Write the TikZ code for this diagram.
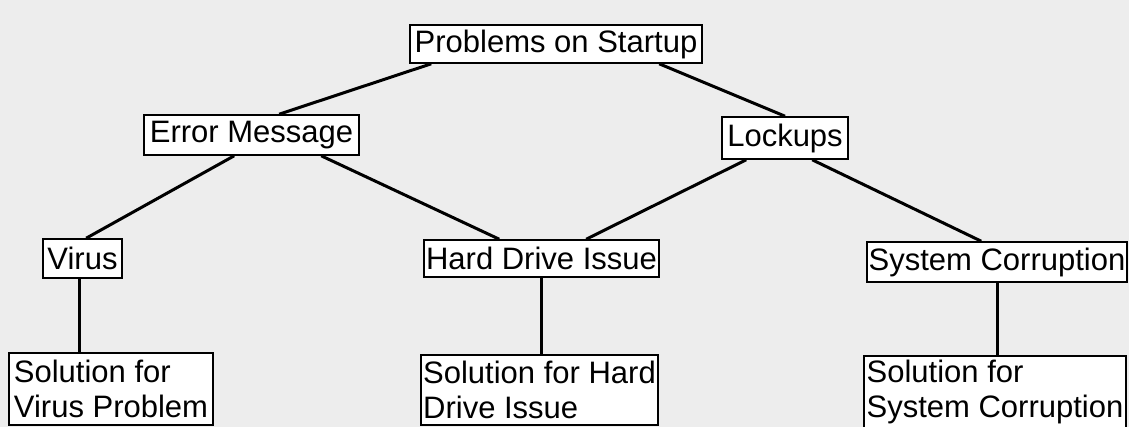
\documentclass[tikz,border=0pt]{standalone}
\usepackage{fontspec}
\newfontfamily\boxfont{Liberation Sans}
\begin{document}
\begin{tikzpicture}[x=1pt, y=-1pt,
    box/.style={draw, line width=1.6pt, fill=white, inner sep=0pt, align=left,
        font=\boxfont\fontsize{31}{35}\selectfont},
    link/.style={line width=3pt}]
    \fill[black!7] (0,0) rectangle (1129,427);
    \useasboundingbox (0,0) rectangle (1129,427);

    \node[box, minimum width=292, minimum height=38] (P) at (556,44) {Problems on Startup};
    \node[box, minimum width=215, minimum height=40] (E) at (251.5,135) {Error Message};
    \node[box, minimum width=126, minimum height=42] (L) at (785,138) {Lockups};
    \node[box, minimum width=79, minimum height=39] (V) at (82.5,258.5) {Virus};
    \node[box, minimum width=235, minimum height=37] (H) at (541.5,258.5) {Hard Drive Issue};
    \node[box, minimum width=260, minimum height=40] (S) at (997,262) {System Corruption};
    \node[box, minimum width=204, minimum height=72] (VS) at (111,389) {Solution for\\Virus Problem};
    \node[box, minimum width=237, minimum height=70] (HS) at (539.5,390) {Solution for Hard\\Drive Issue};
    \node[box, minimum width=262, minimum height=72] (SS) at (995,392) {Solution for\\System Corruption};

    \draw[link] ([xshift=22pt]P.south west) -- ([xshift=136pt]E.north west);
    \draw[link] ([xshift=250pt]P.south west) -- (L.north);
    \draw[link] ([xshift=91pt]E.south west) -- ([xshift=44pt]V.north west);
    \draw[link] ([xshift=178pt]E.south west) -- ([xshift=76pt]H.north west);
    \draw[link] ([xshift=25pt]L.south west) -- ([xshift=163pt]H.north west);
    \draw[link] ([xshift=91pt]L.south west) -- ([xshift=115pt]S.north west);
    \draw[link] ([xshift=-3.5pt]V.south) -- ([xshift=-32pt]VS.north);
    \draw[link] (H.south) -- ([xshift=2pt]HS.north);
    \draw[link] (S.south) -- ([xshift=2pt]SS.north);

\end{tikzpicture}
\end{document}
